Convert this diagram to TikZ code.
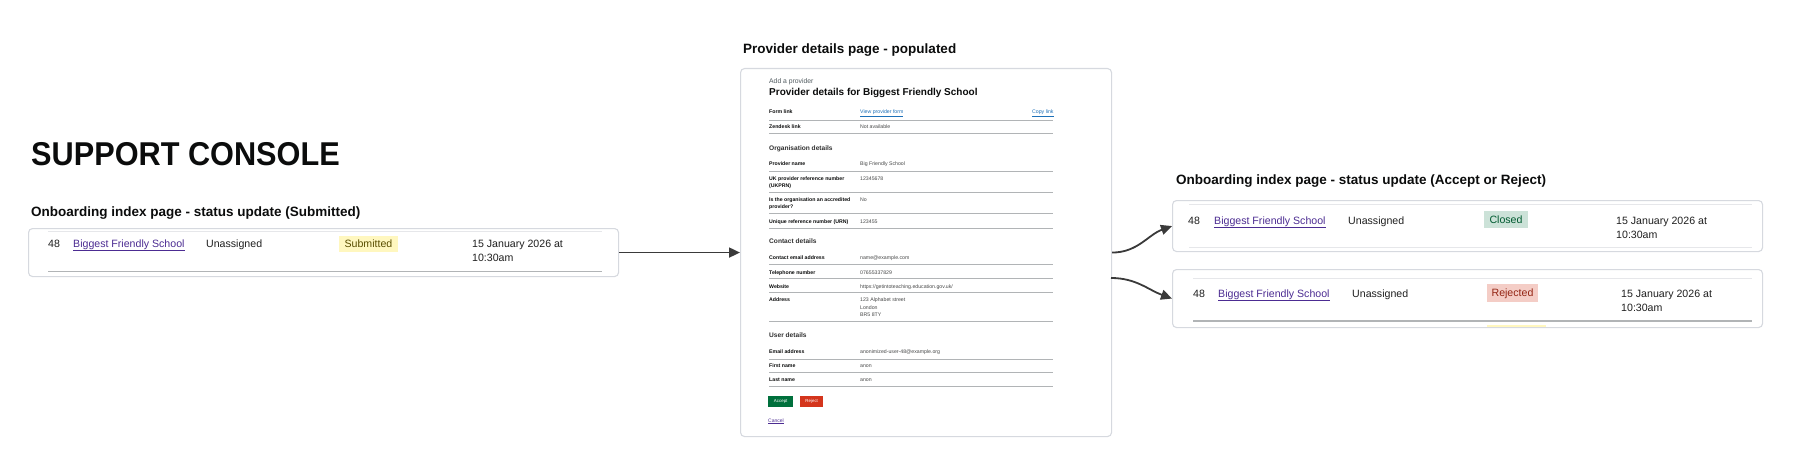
\documentclass[tikz,border=0pt]{standalone}
\usepackage{fontspec}
\setmainfont{Liberation Sans}
\newfontfamily\condfont[FakeStretch=0.93]{Liberation Sans}
\usetikzlibrary{arrows.meta}
\definecolor{ink}{HTML}{0B0C0C}
\definecolor{rowink}{HTML}{1F1F1F}
\definecolor{boxline}{HTML}{D6D9DF}
\definecolor{rulelight}{HTML}{E6E7EA}
\definecolor{ruledark}{HTML}{B1B4B6}
\definecolor{arrowc}{HTML}{3A3A3A}
\definecolor{visited}{HTML}{4C2C92}
\definecolor{linkblue}{HTML}{1D70B8}
\definecolor{yellowbg}{HTML}{FFF7BF}
\definecolor{yellowfg}{HTML}{594D00}
\definecolor{greenbg}{HTML}{CCE2D8}
\definecolor{greenfg}{HTML}{005A30}
\definecolor{redbg}{HTML}{F4CDC6}
\definecolor{redfg}{HTML}{942514}
\definecolor{btngreen}{HTML}{00703C}
\definecolor{btnred}{HTML}{D4351C}
\definecolor{midgrey}{HTML}{505A5F}
\begin{document}
\begin{tikzpicture}[x=1pt,y=-1pt,
  txt/.style={anchor=base west, inner sep=0pt, text=rowink, font=\fontsize{10.6}{13}\selectfont},
  linktxt/.style={txt, text=visited},
  heading/.style={anchor=base west, inner sep=0pt, text=ink, font=\fontsize{13.5}{16}\selectfont\bfseries},
  tagbox/.style={inner sep=0pt, minimum height=17pt, text height=7.8pt, text depth=0.4pt, font=\fontsize{10.6}{13}\selectfont},
  pagebox/.style={draw=boxline, line width=1.1pt, rounded corners=4pt, fill=white, inner sep=0pt, anchor=north west},
  connector/.style={draw=arrowc, line width=1.8pt, -{Triangle[length=11pt,width=10pt]}},
  lbl/.style={anchor=base west, inner sep=0pt, text=ink, font=\fontsize{5.2}{6.2}\selectfont\bfseries},
  val/.style={anchor=base west, inner sep=0pt, text=ink!75, font=\fontsize{5.2}{6.2}\selectfont},
  sub/.style={anchor=base west, inner sep=0pt, text=ink!85, font=\fontsize{6.6}{8}\selectfont\bfseries},
  rulem/.style={draw=ruledark, line width=0.8pt},
  btn/.style={inner sep=0pt, minimum height=11pt, text=white, font=\fontsize{4.4}{5}\selectfont}
]
\useasboundingbox (0,0) rectangle (1800,476);

% ---------- left column ----------
\node[anchor=base west, inner sep=0pt, text=ink, font=\fontsize{33}{36}\selectfont\condfont\bfseries] (console) at (31,165) {SUPPORT CONSOLE};
\node[heading] (lefttitle) at (31,216) {Onboarding index page - status update (Submitted)};

\node[pagebox, minimum width=590pt, minimum height=48pt] (leftbox) at (28,228) {};
\draw[rulelight, line width=1pt] (48,231) -- (602,231);
\draw[ruledark, line width=1pt] (48,271) -- (602,271);
\node[txt] (lnum) at (48,247) {48};
\node[linktxt] (llink) at (73,247) {\underline{Biggest Friendly School}};
\node[txt] (lassign) at (206,247) {Unassigned};
\node[tagbox, fill=yellowbg, text=yellowfg, minimum width=59pt, minimum height=16pt] (ltag) at (368.5,243.5) {Submitted};
\node[txt] (ldate) at (472,247) {15 January 2026 at};
\node[txt] (ltime) at (472,261) {10:30am};

% ---------- middle page ----------
\node[heading] (midtitle) at (743,54) {Provider details page - populated};
\node[pagebox, minimum width=371pt, minimum height=368pt] (midbox) at (740,68) {};

\node[anchor=base west, inner sep=0pt, text=midgrey, font=\fontsize{6.8}{8}\selectfont] (addprov) at (769,84) {Add a provider};
\node[anchor=base west, inner sep=0pt, text=ink, font=\fontsize{10}{12}\selectfont\bfseries] (pdhead) at (769,96) {Provider details for Biggest Friendly School};

\node[lbl] (l01) at (769,114) {Form link};
\node[val, text=linkblue] (v01) at (860,114) {\underline{View provider form}};
\node[val, text=linkblue] (v01b) at (1032,114) {\underline{Copy link}};
\draw[rulem] (769,120) -- (1053,120);
\node[lbl] (l02) at (769,129) {Zendesk link};
\node[val] (v02) at (860,129) {Not available};
\draw[rulem] (769,133) -- (1053,133);

\node[sub] (s1) at (769,150.5) {Organisation details};
\node[lbl] (l03) at (769,165) {Provider name};
\node[val] (v03) at (860,165) {Big Friendly School};
\draw[rulem] (769,171) -- (1053,171);
\node[lbl] (l04) at (769,180) {UK provider reference number};
\node[lbl] (l04b) at (769,187) {(UKPRN)};
\node[val] (v04) at (860,180) {12345678};
\draw[rulem] (769,192) -- (1053,192);
\node[lbl] (l05) at (769,201) {Is the organisation an accredited};
\node[lbl] (l05b) at (769,208) {provider?};
\node[val] (v05) at (860,201) {No};
\draw[rulem] (769,213) -- (1053,213);
\node[lbl] (l06) at (769,223) {Unique reference number (URN)};
\node[val] (v06) at (860,223) {123455};
\draw[rulem] (769,228) -- (1053,228);

\node[sub] (s2) at (769,243.5) {Contact details};
\node[lbl] (l07) at (769,259) {Contact email address};
\node[val] (v07) at (860,259) {name@example.com};
\draw[rulem] (769,264) -- (1053,264);
\node[lbl] (l08) at (769,274) {Telephone number};
\node[val] (v08) at (860,274) {07655337829};
\draw[rulem] (769,278) -- (1053,278);
\node[lbl] (l09) at (769,288) {Website};
\node[val] (v09) at (860,288) {https://getintoteaching.education.gov.uk/};
\draw[rulem] (769,292) -- (1053,292);
\node[lbl] (l10) at (769,301) {Address};
\node[val] (v10) at (860,301) {123 Alphabet street};
\node[val] (v10b) at (860,309) {London};
\node[val] (v10c) at (860,316) {BR5 8TY};
\draw[rulem] (769,321) -- (1053,321);

\node[sub] (s3) at (769,337.5) {User details};
\node[lbl] (l11) at (769,353) {Email address};
\node[val] (v11) at (860,353) {anonimized-user-48@example.org};
\draw[rulem] (769,359) -- (1053,359);
\node[lbl] (l12) at (769,367) {First name};
\node[val] (v12) at (860,367) {anon};
\draw[rulem] (769,372) -- (1053,372);
\node[lbl] (l13) at (769,381) {Last name};
\node[val] (v13) at (860,381) {anon};
\draw[rulem] (769,386) -- (1053,386);

\node[btn, fill=btngreen, minimum width=25pt, anchor=north west] (accept) at (768,396) {Accept};
\node[btn, fill=btnred, minimum width=23pt, anchor=north west] (reject) at (800,396) {Reject};
\node[anchor=base west, inner sep=0pt, text=visited, font=\fontsize{5}{6}\selectfont] (cancel) at (768,422) {\underline{Cancel}};

% ---------- right column ----------
\node[heading] (righttitle) at (1176,185) {Onboarding index page - status update (Accept or Reject)};

\node[pagebox, minimum width=590pt, minimum height=51pt] (rbox1) at (1172,200) {};
\draw[rulelight, line width=1pt] (1189,204) -- (1752,204);
\draw[rulelight, line width=1pt] (1189,247) -- (1752,247);
\node[txt] (r1num) at (1188,224) {48};
\node[linktxt] (r1link) at (1214,224) {\underline{Biggest Friendly School}};
\node[txt] (r1assign) at (1348,224) {Unassigned};
\node[tagbox, fill=greenbg, text=greenfg, minimum width=44pt] (r1tag) at (1506,219.5) {Closed};
\node[txt] (r1date) at (1616,224) {15 January 2026 at};
\node[txt] (r1time) at (1616,238) {10:30am};

\node[pagebox, minimum width=590pt, minimum height=58pt] (rbox2) at (1172,269) {};
\draw[rulelight, line width=1pt] (1193,278) -- (1752,278);
\draw[ruledark, line width=1.1pt] (1193,321) -- (1752,321);
\fill[yellowbg] (1487,324.5) rectangle (1546,327);
\node[txt] (r2num) at (1193,297) {48};
\node[linktxt] (r2link) at (1218,297) {\underline{Biggest Friendly School}};
\node[txt] (r2assign) at (1352,297) {Unassigned};
\node[tagbox, fill=redbg, text=redfg, minimum width=51pt, minimum height=18pt] (r2tag) at (1512.5,293) {Rejected};
\node[txt] (r2date) at (1621,297) {15 January 2026 at};
\node[txt] (r2time) at (1621,311) {10:30am};

% ---------- connectors ----------
\coordinate (mid2) at (1111,278);
\draw[connector] (leftbox.east) -- (midbox.west);
\draw[connector] (midbox.east) to[out=0,in=200] (rbox1.west);
\draw[connector] (mid2) to[out=0,in=160] (rbox2.west);
\end{tikzpicture}
\end{document}
